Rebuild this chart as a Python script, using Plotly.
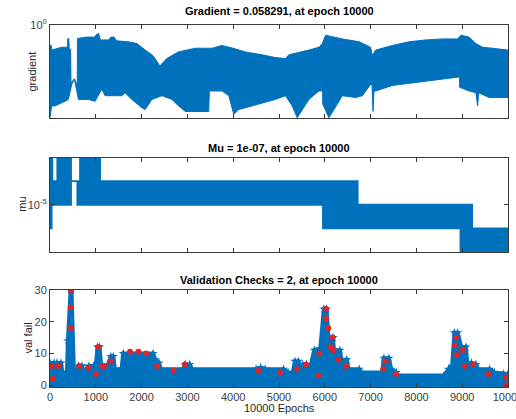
import plotly.graph_objects as go

BLUE = "#0072BD"
RED = "#D9262A"
AXC = "#3a3a3a"
FONT = "Liberation Sans, Arial, sans-serif"

# ---------------- data ----------------
titles = ["Gradient = 0.058291, at epoch 10000",
          "Mu = 1e-07, at epoch 10000",
          "Validation Checks = 2, at epoch 10000"]
ylabels = ["gradient", "mu", "val fail"]
xlabel = "10000 Epochs"
x_ticks = [0, 1000, 2000, 3000, 4000, 5000, 6000, 7000, 8000, 9000, 10000]
x_tick_labels = ["0", "1000", "2000", "3000", "4000", "5000", "6000", "7000", "8000",
                 "9000", "10000"]

# gradient envelope (upper / lower)
grad_up_epoch = [0, 30, 40, 110, 250, 380, 390, 410, 420, 450, 458, 535, 580, 595, 600,
                 700, 800, 980, 1000, 1060, 1100, 1280, 1330, 1400, 1450, 1700, 1900,
                 2080, 2250, 2400, 2550, 2800, 3170, 3540, 3750, 4000, 4270, 4630, 4920,
                 5140, 5215, 5650, 5870, 5945, 6018, 6380, 6750, 7000, 7040, 7110, 7480,
                 7840, 8210, 8570, 8900, 8970, 9150, 9300, 9450, 9660, 10000]
grad_up = [0.468, 0.468, 0.394, 0.407, 0.437, 0.437, 0.606, 0.606, 0.407, 0.407, 0.117, 0.135,
           0.106, 0.106, 0.606, 0.617, 0.638, 0.638, 0.684, 0.733, 0.575, 0.575, 0.638, 0.638,
           0.556, 0.537, 0.501, 0.394, 0.320, 0.219, 0.288, 0.367, 0.422, 0.422, 0.468, 0.422,
           0.367, 0.331, 0.298, 0.288, 0.331, 0.394, 0.437, 0.501, 0.684, 0.596, 0.537, 0.437,
           0.320, 0.394, 0.468, 0.537, 0.575, 0.596, 0.596, 0.684, 0.638, 0.501, 0.437, 0.422,
           0.394]
grad_lo_epoch = [0, 36, 109, 182, 328, 401, 474, 533, 584, 620, 839, 984, 1130, 1203, 1568,
                 1641, 1787, 2006, 2079, 2225, 2443, 2662, 2808, 2954, 3465, 3480, 3757, 3903,
                 4012, 4121, 4413, 4920, 5142, 5288, 5398, 5507, 5653, 5871, 5935, 5945, 5955,
                 6090, 6200, 6383, 6675, 6820, 7000, 7030, 7053, 7075, 7112, 7476, 7841, 8206,
                 8570, 8925, 8935, 8945, 9154, 9300, 9336, 9360, 9592, 10000]
grad_lo = [0.032, 0.0495, 0.0495, 0.0531, 0.0589, 0.0631, 0.110, 0.135, 0.0861, 0.0631, 0.0631,
           0.0589, 0.0923, 0.0724, 0.0724, 0.0804, 0.0631, 0.0462, 0.0432, 0.0631, 0.0724,
           0.0631, 0.0495, 0.0403, 0.0403, 0.0861, 0.0861, 0.0724, 0.0363, 0.0432, 0.0495,
           0.0631, 0.0724, 0.0495, 0.032, 0.0432, 0.0631, 0.0861, 0.0861, 0.219, 0.0531, 0.032,
           0.0432, 0.0724, 0.0676, 0.0724, 0.110, 0.110, 0.0403, 0.0861, 0.0861, 0.106, 0.117,
           0.126, 0.135, 0.145, 0.367, 0.0989, 0.0861, 0.0804, 0.0495, 0.0804, 0.0676, 0.0676]

# mu: segments (start epoch, band top, band bottom)
mu_start = [0, 36, 51, 160, 459, 597, 656, 729, 765, 1093, 5938, 5960, 6718, 8962, 9217]
mu_up = [1e-3, 1e-3, 1e-4, 1e-3, 1e-4, 1e-4, 1e-3, 1e-4, 1e-3, 1e-4, 1e-5, 1e-4, 1e-5, 1e-5, 1e-6]
mu_lo = [1e-6, 1e-5, 1e-5, 1e-5, 1e-4, 1e-5, 1e-5, 1e-5, 1e-5, 1e-5, 1e-5, 1e-6, 1e-6, 1e-7, 1e-7]
mu_end = 10000

# validation fail envelope
vf_epoch = [0, 90, 110, 150, 240, 270, 370, 390, 450, 470, 520, 560, 620, 700, 740, 850, 950,
            990, 1040, 1080, 1120, 1250, 1330, 1380, 1420, 1560, 1600, 2250, 2300, 2380, 2420,
            2900, 2950, 3050, 3100, 4500, 4600, 4700, 5100, 5200, 5300, 5350, 5420, 5480, 5520,
            5600, 5680, 5770, 5900, 5980, 6040, 6080, 6180, 6200, 6330, 6360, 6480, 6520, 6750,
            6800, 7250, 7290, 7400, 7450, 7560, 7600, 8600, 8700, 8780, 8830, 8900, 8980, 9080,
            9110, 9200, 9300, 9350, 9600, 9700, 9900, 10000]
vf_top = [7, 7, 4, 7, 7, 4, 4, 14, 30, 30, 5, 3, 6, 6, 4, 6, 6, 5, 12, 12, 6, 6, 9, 9, 5, 5,
          10, 10, 8, 7, 5, 5, 6.5, 6.5, 5, 5, 5.5, 5, 5, 4, 4, 7.5, 7.5, 5, 6.5, 6.5, 5.5, 11,
          11.5, 24, 24, 15, 15, 11, 11, 8, 8, 5, 5, 4, 4, 8.5, 8.5, 5, 4, 3, 3, 5, 6, 16.5,
          16.5, 12, 12, 7, 7, 6.5, 5, 5, 4, 3.5, 3.5]
red_epoch = [37, 182, 451, 451, 451, 640, 837, 1055, 1186, 1332, 1747, 1929, 2096, 2343, 2948,
             4550, 60, 1000, 1150, 2700, 5022, 5400, 5590, 5881, 5859, 6026, 6026, 6077, 6172,
             6186, 6296, 6463, 6128, 7329, 7278, 7555, 8865, 8843, 8879, 9010, 9061, 9243,
             9571, 9956, 9971]
red_val = [6, 6, 30, 24.5, 18, 6, 5.5, 12, 6, 7.5, 10.5, 10.5, 10, 6, 6.5, 4.5, 2, 3.5, 6,
           4.5, 4, 5, 6.5, 10, 3, 24, 21, 18, 15, 11, 8, 6, 12, 7.5, 5, 3.5, 15, 12.5, 9.5, 11,
           6, 6.5, 3.5, 2.5, 0]

# ---------------- layout geometry (pixels) ----------------
W, H = 516, 419
X0, X1 = 50, 508
panels = [(25, 118), (157.5, 252), (290, 387)]
title_y = [11, 147.5, 280]
VF_RANGE = [-0.6, 30]


def ydom(top, bot):
    return [1 - bot / H, 1 - top / H]


fig = go.Figure()

# gradient
gx = grad_up_epoch + grad_lo_epoch[::-1]
gy = grad_up + grad_lo[::-1]
fig.add_trace(go.Scatter(x=gx, y=gy, fill="toself", fillcolor=BLUE, mode="lines",
                         line=dict(color=BLUE, width=1), xaxis="x", yaxis="y",
                         hoverinfo="skip", showlegend=False))

# mu (step band)
ux, uy, lx, ly = [], [], [], []
for i, s in enumerate(mu_start):
    e = mu_start[i + 1] if i + 1 < len(mu_start) else mu_end
    ux += [s, e]
    uy += [mu_up[i], mu_up[i]]
    lx += [s, e]
    ly += [mu_lo[i], mu_lo[i]]
fig.add_trace(go.Scatter(x=ux + lx[::-1], y=uy + ly[::-1], fill="toself", fillcolor=BLUE,
                         mode="lines", line=dict(color=BLUE, width=1.8), xaxis="x2", yaxis="y2",
                         hoverinfo="skip", showlegend=False))

# val fail
fig.add_trace(go.Scatter(x=vf_epoch + [vf_epoch[-1], vf_epoch[0]],
                         y=vf_top + [VF_RANGE[0], VF_RANGE[0]], fill="toself",
                         fillcolor=BLUE, mode="lines", line=dict(color=BLUE, width=4),
                         xaxis="x3", yaxis="y3", hoverinfo="skip", showlegend=False))
fig.add_trace(go.Scatter(x=vf_epoch, y=vf_top, mode="markers",
                         marker=dict(symbol="star", size=7, color=BLUE),
                         xaxis="x3", yaxis="y3", hoverinfo="skip", showlegend=False))
fig.add_trace(go.Scatter(x=red_epoch, y=red_val, mode="markers",
                         marker=dict(symbol="circle", size=6, color=RED),
                         xaxis="x3", yaxis="y3", hoverinfo="skip", showlegend=False))

xdom = [X0 / W, X1 / W]
common_x = dict(range=[0, 10000], tickvals=x_ticks, ticktext=x_tick_labels, ticks="inside",
                ticklen=4, tickcolor=AXC, showline=True, linecolor=AXC, linewidth=1,
                mirror="ticks", showgrid=False, zeroline=False, domain=xdom, automargin=False,
                ticklabeloverflow="allow",
                tickfont=dict(family=FONT, size=11, color="#404040"))
common_y = dict(ticks="inside", ticklen=4, tickcolor=AXC, showline=True, linecolor=AXC,
                linewidth=1, mirror="ticks", showgrid=False, zeroline=False, automargin=False,
                tickfont=dict(family=FONT, size=11, color="#404040"))

layout = dict(width=W, height=H, margin=dict(l=0, r=0, t=0, b=0, pad=0, autoexpand=False),
              paper_bgcolor="white", plot_bgcolor="white", showlegend=False)
layout["xaxis"] = dict(common_x, anchor="y", showticklabels=False)
layout["xaxis2"] = dict(common_x, anchor="y2", showticklabels=False)
layout["xaxis3"] = dict(common_x, anchor="y3", showticklabels=True, ticklabelstandoff=0)
layout["yaxis"] = dict(common_y, anchor="x", type="log", range=[-1.5, 0], tickvals=[1],
                       ticktext=["10<sup>0</sup>"], domain=ydom(*panels[0]))
layout["yaxis2"] = dict(common_y, anchor="x2", type="log", range=[-7, -3], tickvals=[1e-5],
                        ticktext=["10<sup>-5</sup>"], domain=ydom(*panels[1]))
layout["yaxis3"] = dict(common_y, anchor="x3", range=VF_RANGE, tickvals=[0, 10, 20, 30],
                        domain=ydom(*panels[2]))

ann = []
for i, (top, bot) in enumerate(panels):
    ann.append(dict(text="<b>%s</b>" % titles[i], x=(X0 + X1) / 2 / W, y=1 - title_y[i] / H,
                    xref="paper", yref="paper", showarrow=False, xanchor="center",
                    yanchor="middle", font=dict(family=FONT, size=11, color="#000")))
ylab_x = [31, 22, 27]
for i, (top, bot) in enumerate(panels):
    ann.append(dict(text=ylabels[i], x=ylab_x[i] / W, y=1 - (top + bot) / 2 / H,
                    xref="paper", yref="paper", showarrow=False, textangle=-90,
                    xanchor="center", yanchor="middle",
                    font=dict(family=FONT, size=11, color="#262626")))
ann.append(dict(text=xlabel, x=(X0 + X1) / 2 / W, y=1 - 408 / H, xref="paper", yref="paper",
                showarrow=False, xanchor="center", yanchor="middle",
                font=dict(family=FONT, size=11, color="#262626")))
layout["annotations"] = ann

fig.update_layout(**layout)
fig.write_html("out.html")
